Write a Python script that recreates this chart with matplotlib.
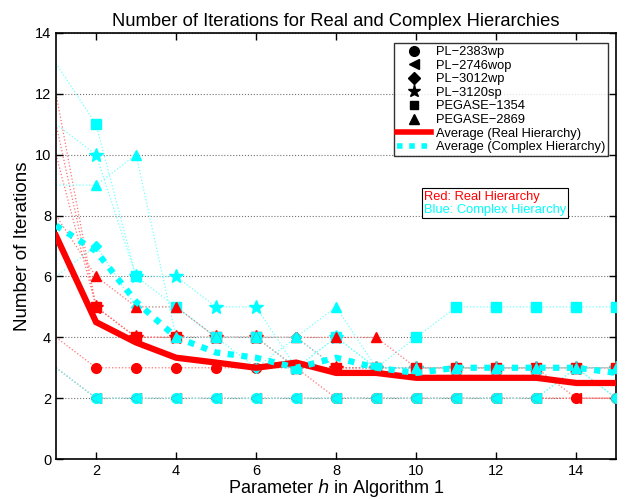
import numpy as np
import matplotlib
matplotlib.use('Agg')
import matplotlib.pyplot as plt
from matplotlib.lines import Line2D
from matplotlib.offsetbox import TextArea, VPacker, AnchoredOffsetbox

plt.rcParams['font.family'] = ['Liberation Sans', 'DejaVu Sans']

h = np.arange(1, 16)

cases = ['PL\u22122383wp', 'PL\u22122746wop', 'PL\u22123012wp', 'PL\u22123120sp',
         'PEGASE\u22121354', 'PEGASE\u22122869']
markers = ['o', '<', 'D', '*', 's', '^']

# iterations, real hierarchy (red)
real_2383 = [4, 3, 3, 3, 3, 3, 3, 2, 2, 2, 2, 2, 2, 2, 2]
real_2746 = [3, 2, 2, 2, 2, 2, 2, 2, 2, 2, 2, 2, 2, 2, 2]
real_3012 = [11, 5, 4, 4, 4, 4, 4, 3, 3, 3, 3, 3, 3, 2, 2]
real_3120 = [12, 5, 4, 4, 4, 4, 3, 3, 3, 3, 3, 3, 3, 3, 3]
real_1354 = [10, 5, 4, 4, 4, 4, 3, 3, 3, 3, 3, 3, 3, 3, 3]
real_2869 = [8, 6, 5, 5, 4, 4, 4, 4, 4, 3, 3, 3, 3, 3, 3]

# iterations, complex hierarchy (cyan)
cplx_2383 = [3, 2, 2, 2, 2, 2, 2, 2, 2, 2, 2, 2, 2, 3, 2]
cplx_2746 = [3, 2, 2, 2, 2, 2, 2, 2, 2, 2, 2, 2, 2, 3, 2]
cplx_3012 = [6, 7, 5, 5, 4, 3, 4, 3, 3, 3, 3, 3, 3, 3, 2]
cplx_3120 = [11, 10, 6, 6, 5, 5, 3, 4, 3, 3, 3, 3, 3, 3, 3]
cplx_1354 = [13, 11, 6, 5, 4, 4, 3, 4, 3, 4, 5, 5, 5, 5, 5]
cplx_2869 = [9, 9, 10, 4, 4, 4, 4, 5, 3, 3, 3, 3, 3, 3, 3]

avg_real = [7.33, 4.5, 3.83, 3.33, 3.17, 3.0, 3.17, 2.83, 2.83, 2.67, 2.67, 2.67, 2.67, 2.5, 2.5]
avg_cplx = [7.67, 6.83, 5.17, 4.0, 3.5, 3.33, 3.0, 3.33, 3.0, 2.83, 3.0, 3.0, 3.0, 3.0, 2.83]

real_all = [real_2383, real_2746, real_3012, real_3120, real_1354, real_2869]
cplx_all = [cplx_2383, cplx_2746, cplx_3012, cplx_3120, cplx_1354, cplx_2869]

fig = plt.figure(figsize=(6.26, 4.99), dpi=100)
ax = fig.add_axes([0.0895, 0.080, 0.895, 0.854])

sizes = {'o': 7, '<': 7, 'D': 5.6, '*': 10, 's': 6.5, '^': 7.5}
for m, r, c in zip(markers, real_all, cplx_all):
    ax.plot(h, r, linestyle=':', linewidth=0.9, color=(1, 0.45, 0.45), zorder=2)
    ax.plot(h[1:], r[1:], linestyle='none', marker=m, markersize=sizes[m],
            color='red', markeredgecolor='red', zorder=3)
    ax.plot(h, c, linestyle=':', linewidth=0.9, color=(0.45, 1, 1), zorder=2)
    ax.plot(h[1:], c[1:], linestyle='none', marker=m, markersize=sizes[m],
            color='cyan', markeredgecolor='cyan', zorder=3)

ax.plot(h, avg_real, color='red', linewidth=4.5, zorder=4, solid_joinstyle='miter')
ax.plot(h, avg_cplx, color='cyan', linewidth=4.5, linestyle=(0, (1, 1.2)),
        dash_capstyle='butt', zorder=5)

ax.set_xlim(1, 15)
ax.set_ylim(0, 14)
ax.set_xticks(np.arange(2, 15, 2))
ax.set_yticks(np.arange(0, 15, 2))
ax.tick_params(direction='in', top=True, right=True, labelsize=10.5, length=5, width=1)
for s in ax.spines.values():
    s.set_linewidth(1.2)
ax.yaxis.grid(True, linestyle=':', color='0.45', linewidth=0.8)

ax.set_title('Number of Iterations for Real and Complex Hierarchies', fontsize=13.2, pad=5)
ax.set_xlabel('Parameter $h$ in Algorithm 1', fontsize=13, labelpad=-1)
ax.set_ylabel('Number of Iterations', fontsize=13.5, labelpad=3)

leg_sizes = {'o': 7, '<': 7, 'D': 6.2, '*': 9.5, 's': 6, '^': 7.5}
handles = [Line2D([], [], linestyle='none', marker=m, color='black',
                  markersize=leg_sizes[m]) for m in markers]
handles.append(Line2D([], [], color='red', linewidth=4))
handles.append(Line2D([], [], color='cyan', linewidth=4, linestyle=(0, (1, 1.2))))
labels = cases + ['Average (Real Hierarchy)', 'Average (Complex Hierarchy)']
leg = ax.legend(handles, labels, loc='upper right', fontsize=9.3, frameon=True,
                fancybox=False, edgecolor='black', handlelength=2.6,
                labelspacing=0.12, borderpad=0.25, handletextpad=0.35,
                bbox_to_anchor=(0.997, 0.992))
leg.get_frame().set_linewidth(1.0)
leg.set_zorder(10)

t1 = TextArea('Red: Real Hierarchy', textprops=dict(color='red', fontsize=9.3))
t2 = TextArea('Blue: Complex Hierarchy', textprops=dict(color='cyan', fontsize=9.3))
box = VPacker(children=[t1, t2], align='left', pad=0, sep=1)
anch = AnchoredOffsetbox(loc='upper left', child=box, pad=0.15, borderpad=0,
                         frameon=True, bbox_to_anchor=(0.653, 0.635),
                         bbox_transform=ax.transAxes)
anch.patch.set_edgecolor('black')
anch.patch.set_linewidth(0.8)
anch.set_zorder(10)
ax.add_artist(anch)

fig.savefig('out.png', dpi=100)
